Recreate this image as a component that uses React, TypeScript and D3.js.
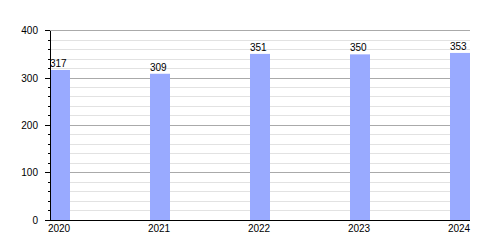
import React from "react";
import * as d3 from "d3";

const years = ["2020", "2021", "2022", "2023", "2024"];
const values = [317, 309, 351, 350, 353];
const majorTicks = [0, 100, 200, 300, 400];

export default function App() {
  const W = 500, H = 250;
  const left = 50, right = 470, top = 30.7, bottom = 220;
  const barW = 20;
  const x = d3.scalePoint<string>().domain(years).range([left, right - barW]);
  const y = d3.scaleLinear().domain([0, 400]).range([bottom, top]);
  const minorTicks = d3.range(0, 401, 20);
  const font = "Liberation Sans, Arial, sans-serif";
  return (
    <svg width={W} height={H} style={{ position: "absolute", left: 0, top: 0 }} fontFamily={font}>
      {minorTicks.map((t) => (
        <line key={"g" + t} x1={left} x2={right} y1={y(t)} y2={y(t)}
          stroke={t % 100 === 0 ? "#aaaaaa" : "#e2e2e2"} strokeWidth={1} shapeRendering="crispEdges" />
      ))}
      {years.map((yr, i) => (
        <rect key={yr} x={x(yr)} y={y(values[i])} width={barW} height={bottom - y(values[i])} fill="#99aaff" />
      ))}
      <line x1={left} x2={left} y1={top} y2={bottom} stroke="#000" shapeRendering="crispEdges" />
      <line x1={left} x2={right} y1={bottom} y2={bottom} stroke="#000" shapeRendering="crispEdges" />
      {minorTicks.map((t) => (
        <line key={"t" + t} x1={t % 100 === 0 ? left - 5 : left - 2.5} x2={left} y1={y(t)} y2={y(t)}
          stroke="#000" shapeRendering="crispEdges" />
      ))}
      {majorTicks.map((t) => (
        <text key={"l" + t} x={38} y={y(t) + 3.5} textAnchor="end" fontSize={10} fill="#000">{t}</text>
      ))}
      {years.map((yr, i) => (
        <text key={"v" + yr} x={x(yr)} y={y(values[i]) - 3} textAnchor="start" fontSize={10} fill="#000">{values[i]}</text>
      ))}
      {years.map((yr) => (
        <text key={"x" + yr} x={(x(yr) as number) + barW / 2 - 1} y={232} textAnchor="middle" fontSize={10} fill="#000">{yr}</text>
      ))}
    </svg>
  );
}
